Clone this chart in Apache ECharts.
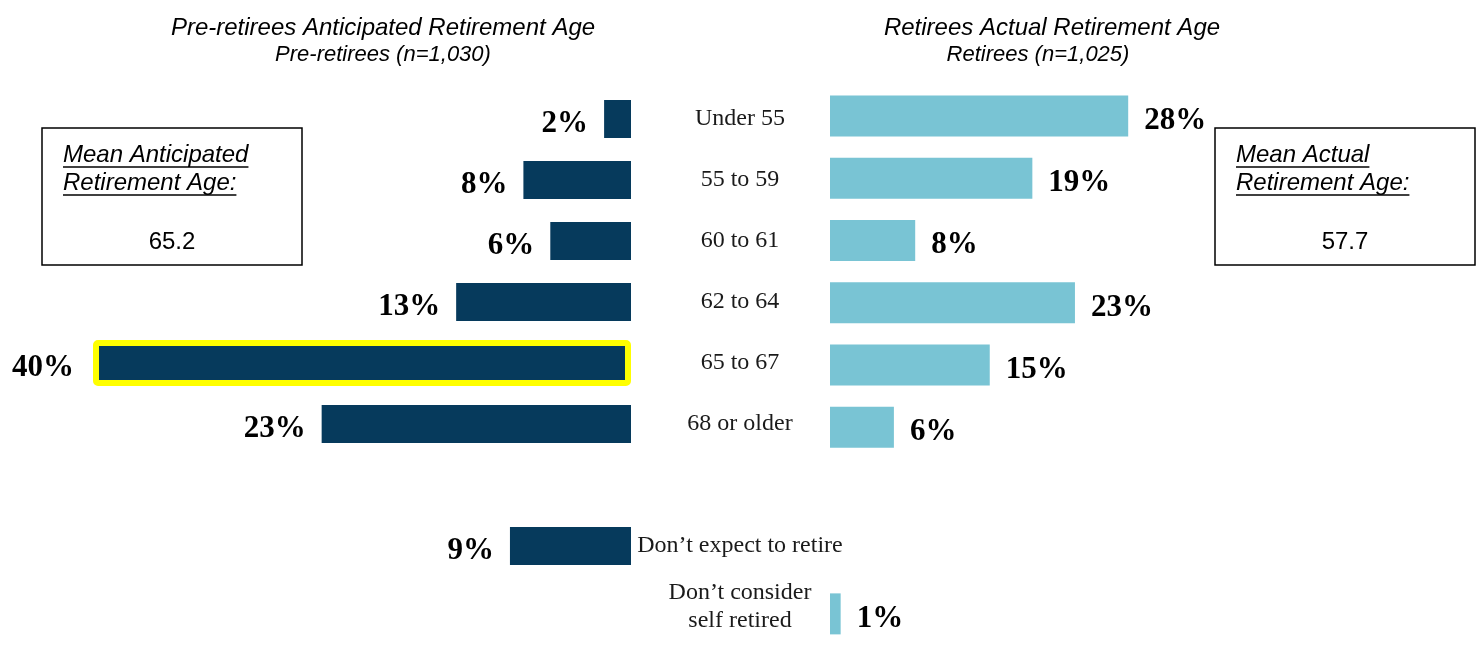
<!DOCTYPE html>
<html>
<head>
<meta charset="utf-8">
<script src="https://cdn.jsdelivr.net/npm/echarts@6/dist/echarts.min.js"></script>
<style>
  html, body { margin: 0; padding: 0; background: #fff; }
  #main { width: 1480px; height: 645px; }
</style>
</head>
<body>
<div id="main"></div>
<script>
// rows: six age bands, a gap, then the two "not retiring" answers
var categories = ['Under 55', '55 to 59', '60 to 61', '62 to 64', '65 to 67', '68 or older', '',
  'Don\u2019t expect to retire', 'Don\u2019t consider\nself retired'];
var preRetirees = [2, 8, 6, 13, 40, 23, null, 9, null];
var retirees = [28, 19, 8, 23, 15, 6, null, null, 1];
var highlightRow = 4;

var leftTitle = 'Pre-retirees Anticipated Retirement Age';
var leftSub = 'Pre-retirees (n=1,030)';
var rightTitle = 'Retirees Actual Retirement Age';
var rightSub = 'Retirees (n=1,025)';
var leftBoxLines = ['Mean Anticipated', 'Retirement Age:'];
var rightBoxLines = ['Mean Actual', 'Retirement Age:'];
var meanAnticipated = '65.2';
var meanActual = '57.7';

var navy = '#063a5c';
var lightBlue = '#79c4d4';
var serif = '"Liberation Serif", "Times New Roman", Times, serif';
var sans = '"Liberation Sans", Arial, Helvetica, sans-serif';

var chart = echarts.init(document.getElementById('main'));

var ctx = document.createElement('canvas').getContext('2d');
function textWidth(txt, font) {
  ctx.font = font;
  return ctx.measureText(txt).width;
}

var boxFont = 'italic 24px ' + sans;

function meanBox(x, lines, value) {
  var els = [{
    type: 'rect',
    shape: { x: x, y: 128, width: 260, height: 137 },
    style: { fill: '#fff', stroke: '#000', lineWidth: 1.5 }
  }];
  lines.forEach(function (t, i) {
    var ty = 155 + i * 28;
    els.push({
      type: 'text', x: x + 21, y: ty,
      style: { text: t, font: boxFont, fill: '#000', textAlign: 'left', textVerticalAlign: 'middle' }
    });
    els.push({
      type: 'line',
      shape: { x1: x + 21, y1: ty + 12, x2: x + 21 + textWidth(t, boxFont), y2: ty + 12 },
      style: { stroke: '#000', lineWidth: 1.5 }
    });
  });
  els.push({
    type: 'text', x: x + 130, y: 242,
    style: { text: value, font: '24px ' + sans, fill: '#000', textAlign: 'center', textVerticalAlign: 'middle' }
  });
  return els;
}

var pctLabel = {
  show: true,
  formatter: '{c}%',
  distance: 16,
  fontFamily: serif,
  fontWeight: 'bold',
  fontSize: 31,
  color: '#000'
};

var titleStyle = function (size) {
  return { fontFamily: sans, fontStyle: 'italic', fontWeight: 'normal', fontSize: size, color: '#000' };
};

var leftGrid = { left: 25.75, width: 605.25, top: 88.5, height: 549 };

var option = {
  animation: false,
  backgroundColor: '#fff',
  title: [
    { text: leftTitle, left: 378, top: 11, textAlign: 'center', textStyle: titleStyle(24) },
    { text: leftSub, left: 378, top: 39, textAlign: 'center', textStyle: titleStyle(22) },
    { text: rightTitle, left: 1047, top: 11, textAlign: 'center', textStyle: titleStyle(24) },
    { text: rightSub, left: 1033, top: 39, textAlign: 'center', textStyle: titleStyle(22) }
  ],
  grid: [
    leftGrid,
    { left: 830, width: 319.5, top: 84.8, height: 561.6 },
    leftGrid
  ],
  xAxis: [
    { gridIndex: 0, type: 'value', min: 0, max: 45, inverse: true, show: false },
    { gridIndex: 1, type: 'value', min: 0, max: 30, show: false },
    { gridIndex: 2, type: 'value', min: 0, max: 45, inverse: true, show: false }
  ],
  yAxis: [
    {
      gridIndex: 0, type: 'category', data: categories, inverse: true, position: 'right',
      axisLine: { show: false }, axisTick: { show: false }, splitLine: { show: false },
      axisLabel: {
        interval: 0, align: 'center', margin: 109, padding: [0, 0, 4, 0],
        fontFamily: serif, fontSize: 24, lineHeight: 28, color: '#1a1a1a'
      }
    },
    {
      gridIndex: 1, type: 'category', data: categories, inverse: true, show: false
    },
    {
      gridIndex: 2, type: 'category', data: categories, inverse: true, show: false
    }
  ],
  series: [
    {
      type: 'bar', xAxisIndex: 0, yAxisIndex: 0, barWidth: 38,
      itemStyle: { color: navy },
      label: Object.assign({ position: 'left', offset: [0, 5] }, pctLabel),
      data: preRetirees.map(function (v, i) { return i === highlightRow ? null : v; })
    },
    {
      // highlighted answer, drawn a little taller with a yellow outline
      type: 'bar', xAxisIndex: 2, yAxisIndex: 2, barWidth: 46,
      itemStyle: { color: navy, borderColor: '#ffff00', borderWidth: 6, borderRadius: 2 },
      label: Object.assign({ position: 'left', offset: [0, 5] }, pctLabel, { distance: 19 }),
      data: preRetirees.map(function (v, i) { return i === highlightRow ? v : null; })
    },
    {
      type: 'bar', xAxisIndex: 1, yAxisIndex: 1, barWidth: 41,
      itemStyle: { color: lightBlue },
      label: Object.assign({ position: 'right', offset: [0, 5] }, pctLabel),
      data: retirees
    }
  ],
  graphic: meanBox(42, leftBoxLines, meanAnticipated).concat(meanBox(1215, rightBoxLines, meanActual))
};

chart.setOption(option);
</script>
</body>
</html>
